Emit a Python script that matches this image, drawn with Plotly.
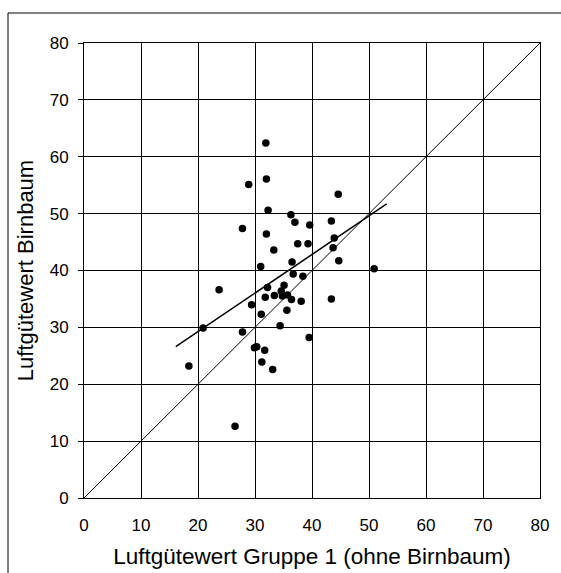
import plotly.graph_objects as go

# Luftgütewerte: Gruppe 1 (ohne Birnbaum) vs. Birnbaum
gruppe1 = [31.9, 28.9, 32.0, 44.6, 32.3, 36.3, 37.0, 39.6, 43.4, 27.8,
           32.0, 43.9, 37.5, 39.3, 33.3, 43.7, 44.7, 36.5, 31.0, 50.9,
           36.7, 38.4, 23.7, 32.2, 35.1, 34.6, 31.8, 33.4, 34.8, 35.7,
           36.4, 38.1, 43.4, 29.4, 35.6, 31.1, 34.4, 20.9, 27.8, 39.5,
           29.9, 30.3, 31.7, 31.2, 33.1, 18.4, 26.5]
birnbaum = [62.4, 55.1, 56.1, 53.4, 50.6, 49.8, 48.5, 48.0, 48.7, 47.4,
            46.4, 45.7, 44.7, 44.7, 43.6, 44.0, 41.7, 41.5, 40.7, 40.3,
            39.4, 39.0, 36.6, 37.0, 37.4, 36.4, 35.3, 35.6, 35.5, 35.7,
            34.9, 34.6, 35.0, 34.0, 33.0, 32.3, 30.3, 29.9, 29.2, 28.2,
            26.4, 26.6, 26.0, 23.9, 22.6, 23.2, 12.6]

# linear trend line (Gruppe 1 -> Birnbaum)
trend_x = [16.1, 53.1]
trend_y = [26.6, 51.7]

tick_vals = [0, 10, 20, 30, 40, 50, 60, 70, 80]
axis_range = [0, 80]

fig = go.Figure()

# 1:1 reference line
fig.add_trace(go.Scatter(x=axis_range, y=axis_range, mode="lines",
                         line=dict(color="black", width=1), hoverinfo="skip"))
fig.add_trace(go.Scatter(x=trend_x, y=trend_y, mode="lines",
                         line=dict(color="black", width=1.5), hoverinfo="skip"))
fig.add_trace(go.Scatter(x=gruppe1, y=birnbaum, mode="markers",
                         marker=dict(color="black", size=7.5)))

font = dict(family="Liberation Sans, Arial, sans-serif", color="black")

fig.update_xaxes(range=axis_range, tickvals=tick_vals, showgrid=True,
                 gridcolor="black", gridwidth=1, showline=True, linecolor="black",
                 mirror=True, linewidth=1, zeroline=False, ticks="",
                 ticklabelstandoff=12, automargin=False,
                 tickfont=dict(size=17, **font),
                 title=dict(text="Luftgütewert Gruppe 1 (ohne Birnbaum)",
                            font=dict(size=22.5, **font), standoff=13))
fig.update_yaxes(range=axis_range, tickvals=tick_vals, showgrid=True,
                 gridcolor="black", gridwidth=1, showline=True, linecolor="black",
                 mirror=True, linewidth=1, zeroline=False, ticks="outside",
                 ticklen=5, tickcolor="black", ticklabelstandoff=6,
                 automargin=False,
                 tickfont=dict(size=17, **font),
                 title=dict(text="Luftgütewert Birnbaum",
                            font=dict(size=22, **font), standoff=9))

# outer chart frame (left and top edges)
fx = (8 - 84) / 456
fy = (498 - 13) / 455
fig.add_shape(type="line", xref="paper", yref="paper",
              x0=fx, x1=fx, y0=-0.3, y1=fy, line=dict(color="black", width=1))
fig.add_shape(type="line", xref="paper", yref="paper",
              x0=fx, x1=1.3, y0=fy, y1=fy, line=dict(color="black", width=1))

fig.update_layout(width=561, height=573, showlegend=False,
                  plot_bgcolor="white", paper_bgcolor="white",
                  margin=dict(l=84, r=21, t=43, b=75),
                  font=font)

fig.write_html("out.html")
